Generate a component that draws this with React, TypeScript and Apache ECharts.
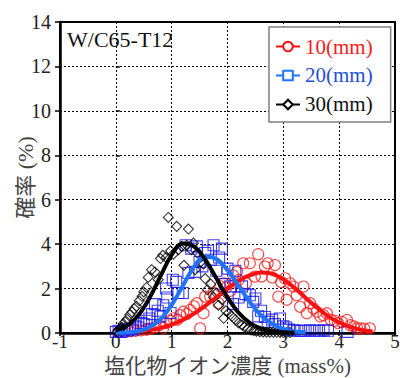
import React, { useEffect, useRef } from "react";
import * as echarts from "echarts";

// Tick labels / axis settings
const xTicks = [-1, 0, 1, 2, 3, 4, 5];
const yTicks = [0, 2, 4, 6, 8, 10, 12, 14];
const seriesNames = ["10(mm)", "20(mm)", "30(mm)"];

// Fitted curves
const redCurve = [
  [0.4, 0.07], [0.6, 0.13], [0.8, 0.23], [1.0, 0.38], [1.2, 0.59], [1.4, 0.87],
  [1.6, 1.22], [1.8, 1.61], [2.0, 2.0], [2.2, 2.35], [2.4, 2.6], [2.6, 2.72],
  [2.8, 2.66], [3.0, 2.42], [3.2, 2.03], [3.4, 1.58], [3.6, 1.14], [3.8, 0.76],
  [4.0, 0.47], [4.2, 0.27], [4.4, 0.14], [4.6, 0.07],
];
const blueCurve = [
  [0.0, 0.01], [0.2, 0.02], [0.4, 0.08], [0.6, 0.25], [0.8, 0.62], [1.0, 1.26],
  [1.2, 2.13], [1.4, 2.97], [1.6, 3.43], [1.8, 3.33], [2.0, 2.83], [2.2, 2.12],
  [2.4, 1.39], [2.6, 0.8], [2.8, 0.41], [3.0, 0.18], [3.2, 0.07], [3.4, 0.03],
];
const blackCurve = [
  [0.0, 0.12], [0.2, 0.33], [0.4, 0.79], [0.6, 1.56], [0.8, 2.56], [1.0, 3.52],
  [1.2, 4.03], [1.4, 3.9], [1.6, 3.31], [1.8, 2.46], [2.0, 1.6], [2.2, 0.91],
  [2.4, 0.46], [2.6, 0.2], [2.8, 0.08], [3.0, 0.03], [3.2, 0.01],
];

const redPoints = [
  [0.05, 0.05], [0.15, 0.05], [0.25, 0.08], [0.35, 0.1], [0.45, 0.12], [0.55, 0.15],
  [0.62, 0.2], [0.7, 0.25], [0.78, 0.35], [0.85, 0.22], [0.9, 0.45], [0.97, 0.55],
  [1.03, 0.66], [1.1, 0.6], [1.15, 0.8], [1.21, 0.96], [1.27, 0.85], [1.33, 1.04],
  [1.4, 1.2], [1.45, 1.34], [1.51, 0.21], [1.57, 0.89], [1.6, 1.64], [1.69, 1.64],
  [1.75, 1.79], [1.84, 1.34], [1.87, 2.1], [1.93, 2.24], [1.98, 2.05], [2.05, 1.9],
  [2.1, 2.6], [2.17, 2.76], [2.2, 2.39], [2.28, 3.14], [2.33, 2.24], [2.4, 3.14],
  [2.49, 2.54], [2.55, 3.55], [2.61, 2.54], [2.67, 2.99], [2.72, 3.14], [2.8, 2.5],
  [2.85, 3.06], [2.91, 1.64], [2.96, 2.3], [3.03, 2.46], [3.06, 1.5], [3.12, 2.24],
  [3.18, 2.09], [3.24, 1.7], [3.3, 1.18], [3.36, 2.09], [3.42, 0.89], [3.48, 1.34],
  [3.54, 1.1], [3.6, 0.96], [3.66, 0.75], [3.72, 0.8], [3.78, 0.89], [3.85, 0.6],
  [3.92, 0.55], [3.98, 0.45], [4.05, 0.5], [4.14, 0.59], [4.2, 0.35], [4.26, 0.3],
  [4.32, 0.21], [4.38, 0.21], [4.45, 0.2], [4.55, 0.21],
];
const bluePoints = [
  [0.0, 0.05], [0.05, 0.1], [0.1, 0.05], [0.15, 0.15], [0.2, 0.1], [0.25, 0.2],
  [0.3, 0.15], [0.35, 0.3], [0.4, 0.25], [0.45, 0.45], [0.5, 0.4], [0.55, 0.55],
  [0.6, 0.65], [0.65, 0.85], [0.7, 1.3], [0.75, 1.0], [0.8, 0.75], [0.85, 1.25],
  [0.9, 2.0], [0.92, 1.6], [0.98, 0.9], [1.02, 2.4], [1.08, 2.3], [1.12, 1.8],
  [1.2, 1.8], [1.25, 3.95], [1.3, 2.7], [1.35, 3.8], [1.42, 2.75], [1.45, 3.9],
  [1.5, 3.2], [1.55, 3.0], [1.6, 3.6], [1.65, 3.7], [1.7, 3.3], [1.75, 3.95],
  [1.8, 2.8], [1.85, 3.4], [1.9, 3.8], [1.95, 2.2], [2.0, 2.9], [2.05, 2.1],
  [2.1, 1.3], [2.14, 2.8], [2.2, 1.6], [2.26, 2.1], [2.32, 1.75], [2.4, 1.7],
  [2.46, 1.4], [2.5, 1.55], [2.55, 0.75], [2.6, 1.0], [2.67, 0.72], [2.72, 0.5],
  [2.8, 0.6], [2.85, 0.4], [2.94, 0.65], [3.0, 0.3], [3.05, 0.25], [3.1, 0.15],
  [3.18, 0.12], [3.25, 0.1], [3.32, 0.1], [3.4, 0.1], [3.48, 0.12], [3.56, 0.1],
  [3.64, 0.1], [3.72, 0.12], [3.8, 0.1], [4.15, 0.05],
];
const blackPoints = [
  [0.02, 0.05], [0.05, 0.15], [0.08, 0.2], [0.11, 0.25], [0.13, 0.42], [0.17, 0.5],
  [0.2, 0.62], [0.25, 0.82], [0.29, 0.95], [0.33, 1.1], [0.37, 1.2], [0.42, 1.45],
  [0.47, 1.65], [0.5, 1.85], [0.55, 2.05], [0.58, 2.5], [0.64, 2.85], [0.7, 2.75],
  [0.76, 2.4], [0.8, 3.35], [0.84, 3.5], [0.9, 3.4], [0.94, 5.2], [0.98, 3.7],
  [1.03, 3.55], [1.09, 4.8], [1.12, 3.75], [1.18, 3.9], [1.22, 3.05], [1.27, 3.95],
  [1.3, 4.68], [1.35, 3.75], [1.39, 4.05], [1.42, 2.85], [1.46, 3.6], [1.52, 3.2],
  [1.57, 3.1], [1.6, 2.45], [1.64, 1.95], [1.7, 2.2], [1.75, 1.6], [1.8, 1.8],
  [1.84, 1.25], [1.9, 1.5], [1.93, 0.66], [1.97, 1.0], [2.02, 0.9], [2.08, 0.75],
  [2.14, 0.6], [2.2, 0.45], [2.26, 0.36], [2.3, 0.28], [2.36, 0.2], [2.42, 0.14],
  [2.47, 0.1], [2.52, 0.08], [2.58, 0.06], [2.64, 0.05], [2.7, 0.04], [2.76, 0.04],
  [2.82, 0.03], [2.88, 0.03], [2.94, 0.03], [3.0, 0.02], [3.06, 0.02], [3.12, 0.02],
];

const SERIF = "Liberation Serif, Noto Sans CJK JP, serif";

export default function App() {
  const ref = useRef<HTMLDivElement>(null);

  useEffect(() => {
    if (!ref.current) return;
    const chart = echarts.init(ref.current, undefined, { renderer: "svg" });

    const colors = {
      red: { curve: "#ff1010", point: "#ff1a1a", text: "#ff1a1a", symbol: "emptyCircle" },
      blue: { curve: "#1e74ff", point: "#1010e8", text: "#1f4fd8", symbol: "emptyRect" },
      black: { curve: "#000000", point: "#000000", text: "#111111", symbol: "emptyDiamond" },
    };
    const sets = [
      { name: seriesNames[0], c: colors.red, curve: redCurve, pts: redPoints, sym: "circle", size: 11 },
      { name: seriesNames[1], c: colors.blue, curve: blueCurve, pts: bluePoints, sym: "rect", size: 11 },
      { name: seriesNames[2], c: colors.black, curve: blackCurve, pts: blackPoints, sym: "diamond", size: 10 },
    ];

    const lineSeries = sets.map((s) => ({
      type: "line",
      name: s.name,
      data: s.curve,
      smooth: 0.4,
      showSymbol: false,
      symbol: s.c.symbol,
      symbolSize: 10,
      lineStyle: { width: 4, color: s.c.curve },
      itemStyle: { color: s.c.curve },
      z: 4,
    }));
    const scatterSeries = sets.map((s) => ({
      type: "scatter",
      name: s.name,
      data: s.pts,
      symbol: s.sym,
      symbolSize: s.size,
      itemStyle: { color: "rgba(0,0,0,0)", borderColor: s.c.point, borderWidth: 1.1 },
      z: 3,
    }));

    const xRich = { t: { fontSize: 19, lineHeight: 16, fontFamily: SERIF, color: "#222" } };
    const yRich = { t: { fontSize: 20, lineHeight: 16, fontFamily: SERIF, color: "#222" } };

    const option = {
      animation: false,
      textStyle: { fontFamily: SERIF },
      grid: {
        left: 60,
        right: 10,
        top: 22,
        bottom: 45,
        outerBoundsMode: "none",
        containLabel: false,
        show: true,
        borderColor: "#000",
        borderWidth: 2,
        backgroundColor: "#fff",
      },
      legend: {
        orient: "vertical",
        left: 269,
        top: 27,
        padding: [9, 18, 7, 6],
        itemGap: 8,
        itemWidth: 24,
        itemHeight: 12,
        borderColor: "#808080",
        borderWidth: 1.5,
        backgroundColor: "#fff",
        lineStyle: { width: 2 },
        textStyle: { fontSize: 21, fontFamily: SERIF },
        data: sets.map((s) => ({ name: s.name, textStyle: { color: s.c.text, fontSize: 21, fontFamily: SERIF } })),
        z: 10,
      },
      graphic: [
        {
          type: "text",
          left: 67,
          top: 28,
          style: { text: "W/C65-T12", fontSize: 22, fontFamily: SERIF, fill: "#111" },
          z: 10,
        },
      ],
      xAxis: [
        {
          type: "value",
          min: xTicks[0],
          max: xTicks[xTicks.length - 1],
          interval: 1,
          position: "bottom",
          name: "塩化物イオン濃度 (mass%)",
          nameLocation: "middle",
          nameGap: 23,
          nameMoveOverlap: false,
          nameTextStyle: { fontSize: 21, lineHeight: 20, fontFamily: SERIF, color: "#444" },
          axisLine: { show: true, onZero: false, lineStyle: { color: "#000", width: 2.5 } },
          axisTick: { show: true, inside: false, length: 3, lineStyle: { color: "#000", width: 1.5 } },
          axisLabel: {
            fontSize: 19,
            fontFamily: SERIF,
            color: "#222",
            margin: 0,
            formatter: "{t|{value}}",
            rich: xRich,
          },
          splitLine: { show: true, lineStyle: { type: [2, 2], color: "#000", width: 1 } },
        },
      ],
      yAxis: [
        {
          type: "value",
          min: yTicks[0],
          max: yTicks[yTicks.length - 1],
          interval: 2,
          name: "確率 (%)",
          nameLocation: "middle",
          nameGap: 24,
          nameMoveOverlap: false,
          nameTextStyle: { fontSize: 22, fontFamily: SERIF, color: "#444" },
          axisLine: { show: true, onZero: false, lineStyle: { color: "#000", width: 2.5 } },
          axisTick: { show: true, inside: false, length: 5, lineStyle: { color: "#000", width: 1.5 } },
          axisLabel: {
            fontSize: 20,
            fontFamily: SERIF,
            color: "#222",
            margin: 9,
            formatter: "{t|{value}}",
            rich: yRich,
          },
          splitLine: { show: true, lineStyle: { type: [2, 2], color: "#000", width: 1 } },
        },
        {
          type: "value",
          min: yTicks[0],
          max: yTicks[yTicks.length - 1],
          interval: 2,
          position: "right",
          axisLine: { show: false },
          axisTick: { show: true, inside: false, length: 4, lineStyle: { color: "#000", width: 1.5 } },
          axisLabel: { show: false },
          splitLine: { show: false },
        },
      ],
      series: [...lineSeries, ...scatterSeries],
    };

    chart.setOption(option as any);
    return () => chart.dispose();
  }, []);

  return (
    <div
      ref={ref}
      style={{ position: "fixed", left: 0, top: 0, width: 405, height: 378, background: "#fff" }}
    />
  );
}
